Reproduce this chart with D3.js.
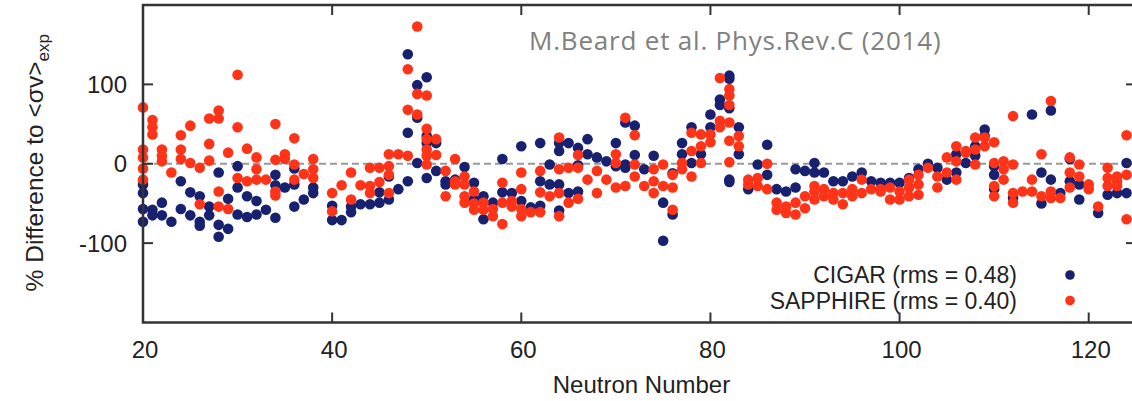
<!DOCTYPE html>
<html>
<head>
<meta charset="utf-8">
<script src="https://cdn.jsdelivr.net/npm/d3@7"></script>
<style>
  html, body { margin: 0; padding: 0; background: #fff; }
  svg { display: block; }
</style>
</head>
<body>
<svg id="plot"></svg>
<script>
svgWidth = 1132;
svgHeight = 401;
margin = {top: 5, right: -4, bottom: 78.5, left: 143};

xTicks = [20, 40, 60, 80, 100, 120];
yTicks = [-100, 0, 100];

// [neutron number, % difference]
const cigarPoints = [
    [20,-26],[20,-37],[20,-57],[20,-73],[21,-58],[21,-65],[22,-49],[22,-65],[23,-73],
    [24,-22],[24,-57],[25,-36],[25,-65],[26,-41],[26,-73],[26,-78],[27,-54],[27,-65],
    [28,-11],[28,-77],[28,-92],[29,-44],[29,-82],[30,-3],[30,-30],[30,-64],[31,-41],[31,-67],
    [32,-47],[32,-64],[33,-58],[34,-14],[34,-27],[34,-68],[35,-30],[36,-6],[36,-26],[36,-54],
    [37,-45],[38,-30],[38,-37],[40,-53],[40,-71],[41,-71],[42,-54],[42,-61],[43,-51],[44,-51],
    [45,-36],[45,-49],[46,-16],[46,-45],[47,-32],[48,-22],[48,39],[48,138],[49,99],[49,58],[49,1],
    [50,109],[50,35],[50,26],[50,-18],[51,26],[51,-9],[52,-22],[52,-26],[53,-20],[54,-4],
    [55,-24],[55,-45],[56,-41],[56,-70],[57,-49],[58,6],[58,-36],[59,-37],[60,22],[60,-47],
    [61,-55],[62,26],[62,-22],[62,-53],[63,-1],[63,-26],[64,26],[64,16],[64,-26],[64,-59],
    [65,26],[65,-37],[66,20],[66,-2],[66,-35],[67,31],[67,12],[68,8],[69,3],[70,26],[70,-3],
    [71,52],[71,-1],[71,-5],[72,48],[72,11],[73,-7],[74,10],[75,-49],[75,-97],[76,-12],[76,-64],
    [77,26],[77,12],[78,46],[78,1],[79,12],[80,62],[80,46],[81,81],[81,74],
    [82,111],[82,107],[82,70],[82,-20],[82,-23],[83,46],[83,12],[84,-32],[85,-1],[86,24],[86,-14],
    [87,-32],[88,-35],[89,-7],[89,-30],[90,-9],[91,1],[91,-11],[92,-11],[93,-22],[94,-22],
    [95,-16],[96,-11],[97,-22],[98,-24],[99,-24],[100,-24],[101,-18],[102,-7],[103,0],[104,-5],
    [105,-20],[106,12],[106,-11],[107,1],[108,22],[108,10],[109,43],[109,35],[110,-3],[110,-14],
    [110,-32],[112,-43],[114,62],[115,-11],[115,-50],[116,67],[116,-20],[117,-37],[118,6],[118,-22],
    [119,-26],[119,-45],[121,-62],[122,-39],[123,-37],[124,1],[124,-37]
];

const sapphirePoints = [
    [20,71],[20,18],[20,8],[20,-6],[20,-20],[21,55],[21,46],[21,37],[22,18],[22,10],[22,3],
    [23,-11],[24,36],[24,18],[24,6],[25,48],[25,1],[26,-5],[26,-51],[27,57],[27,25],[27,4],
    [28,67],[28,57],[28,-35],[28,-54],[29,14],[29,-57],[30,112],[30,46],[30,-18],[31,19],[31,-22],
    [32,8],[32,-7],[32,-20],[33,-20],[34,50],[34,5],[34,-35],[34,-40],[35,12],[35,6],
    [36,32],[36,-1],[36,-20],[37,-13],[38,6],[38,-7],[38,-18],[40,-37],[40,-60],[41,-27],
    [42,-11],[42,-45],[43,-27],[44,-5],[44,-28],[44,-37],[45,-5],[45,-23],[46,12],[46,-3],
    [46,-14],[46,-37],[47,12],[48,10],[48,68],[48,119],[49,173],[49,88],[49,62],
    [50,86],[50,44],[50,31],[50,18],[50,10],[50,-1],[51,31],[51,11],[52,-9],[52,-41],
    [53,6],[53,-22],[53,-26],[54,-16],[54,-26],[54,-41],[54,-49],[55,-35],[55,-50],[55,-58],
    [56,-49],[56,-58],[57,-57],[57,-66],[58,-24],[58,-49],[58,-76],[59,-47],[59,-54],
    [60,-11],[60,-32],[60,-57],[60,-66],[61,-61],[62,-9],[62,-36],[62,-61],[63,-41],
    [64,33],[64,-7],[64,-37],[64,-66],[65,-5],[65,-49],[66,11],[66,-5],[66,-44],[67,-20],
    [68,-9],[68,-37],[69,-20],[70,12],[70,1],[70,-30],[71,58],[71,-28],[72,36],[72,-1],[72,-16],
    [73,-28],[74,-7],[74,-22],[74,-37],[75,-1],[75,-28],[76,-14],[76,-30],[76,-58],[77,1],[77,-7],
    [78,39],[78,16],[78,-16],[79,37],[79,22],[79,1],[80,37],[80,27],[81,108],[81,54],[81,46],
    [82,94],[82,86],[82,74],[82,52],[82,29],[82,2],[83,35],[83,22],[84,-20],[84,-26],
    [85,-18],[85,-28],[86,0],[86,-32],[87,-49],[87,-58],[88,-54],[88,-62],[89,-49],[89,-64],
    [90,-41],[90,-56],[91,-28],[91,-35],[91,-45],[92,-32],[92,-41],[93,-37],[93,-45],
    [94,-37],[94,-51],[95,-32],[95,-41],[96,-20],[96,-37],[97,-32],[98,-32],[98,-35],
    [99,-30],[99,-45],[100,-35],[100,-45],[101,-20],[101,-30],[101,-41],[102,-14],[102,-26],
    [102,-39],[103,-5],[104,-16],[104,-30],[105,8],[105,-11],[106,22],[106,3],[106,-20],
    [107,14],[107,16],[108,33],[108,18],[108,-1],[109,33],[109,22],[110,27],[110,1],[110,-28],
    [110,-41],[111,3],[111,-7],[111,-20],[112,60],[112,-1],[112,-37],[112,-49],[113,-35],
    [114,-20],[114,-35],[115,12],[115,-41],[116,79],[116,-35],[116,-43],[117,-43],
    [118,8],[118,-11],[118,-30],[119,-1],[119,-16],[120,-26],[120,-32],[121,-54],
    [122,-5],[122,-18],[122,-28],[123,-16],[123,-22],[123,-28],[124,36],[124,-14],[124,-70]
];

const seriesNames = ["CIGAR (rms = 0.48)", "SAPPHIRE (rms = 0.40)"];
const seriesColors = ["#172170", "#ff3318"];
const sourceNote = "M.Beard et al. Phys.Rev.C (2014)";

x = d3.scaleLinear()
    .domain([20, 125])
    .range([margin.left, svgWidth - margin.right]);

y = d3.scaleLinear()
    .domain([-200, 200])
    .range([svgHeight - margin.bottom, margin.top]);

function createSVG() {
    const svg = d3.select("#plot")
        .attr("width", svgWidth)
        .attr("height", svgHeight)
        .attr("viewBox", [0, 0, svgWidth, svgHeight])
        .style("font-family", "'Liberation Sans', Arial, sans-serif");

    const x0 = x.range()[0], x1 = x.range()[1];
    const y0 = y.range()[0], y1 = y.range()[1];

    // zero line
    svg.append("line")
        .attr("x1", x0).attr("x2", x1)
        .attr("y1", y(0)).attr("y2", y(0))
        .attr("stroke", "#999")
        .attr("stroke-width", 2)
        .attr("stroke-dasharray", "7,4");

    // points, cigar first so sapphire sits on top
    const dots = svg.append("g");
    [cigarPoints, sapphirePoints].forEach((pts, i) => {
        dots.append("g")
            .selectAll("circle")
            .data(pts)
            .join("circle")
            .attr("cx", d => x(d[0]))
            .attr("cy", d => y(d[1]))
            .attr("r", 5.3)
            .attr("fill", seriesColors[i]);
    });

    // ticks pointing inward on all four sides
    const tickLen = 10;
    const ticks = svg.append("g")
        .attr("stroke", "#333")
        .attr("stroke-width", 2);
    xTicks.filter(t => t > 20).forEach(t => {
        ticks.append("line").attr("x1", x(t)).attr("x2", x(t)).attr("y1", y1).attr("y2", y1 + tickLen);
        ticks.append("line").attr("x1", x(t)).attr("x2", x(t)).attr("y1", y0).attr("y2", y0 - tickLen);
    });
    yTicks.forEach(t => {
        ticks.append("line").attr("x1", x0).attr("x2", x0 + tickLen).attr("y1", y(t)).attr("y2", y(t));
        ticks.append("line").attr("x1", x1).attr("x2", x1 - tickLen).attr("y1", y(t)).attr("y2", y(t));
    });

    // frame
    svg.append("rect")
        .attr("x", x0).attr("y", y1)
        .attr("width", x1 - x0).attr("height", y0 - y1)
        .attr("fill", "none")
        .attr("stroke", "#333")
        .attr("stroke-width", 2.5);

    // tick labels
    svg.append("g")
        .selectAll("text")
        .data(xTicks)
        .join("text")
        .attr("x", d => x(d) + 2)
        .attr("y", 358)
        .attr("text-anchor", "middle")
        .attr("font-size", 24)
        .attr("fill", "#222")
        .text(d => d);

    svg.append("g")
        .selectAll("text")
        .data(yTicks)
        .join("text")
        .attr("x", 127)
        .attr("y", d => y(d) + 8.5)
        .attr("text-anchor", "end")
        .attr("font-size", 24)
        .attr("fill", "#222")
        .text(d => d);

    // axis titles
    svg.append("text")
        .attr("x", (x0 + x1) / 2 + 2)
        .attr("y", 393)
        .attr("text-anchor", "middle")
        .attr("font-size", 24)
        .attr("fill", "#222")
        .text("Neutron Number");

    const yTitle = svg.append("text")
        .attr("transform", `translate(43, ${y(0) - 1}) rotate(-90)`)
        .attr("text-anchor", "middle")
        .attr("font-size", 24.5)
        .attr("fill", "#222");
    yTitle.append("tspan").text("% Difference to <σv>");
    yTitle.append("tspan")
        .attr("font-size", 17)
        .attr("dy", 6)
        .text("exp");

    // legend
    const legend = svg.append("g");
    seriesNames.forEach((name, i) => {
        legend.append("text")
            .attr("x", 1017)
            .attr("y", 283 + i * 26)
            .attr("text-anchor", "end")
            .attr("font-size", 23)
            .attr("fill", "#222")
            .text(name);
        legend.append("circle")
            .attr("cx", 1070)
            .attr("cy", 275 + i * 25.5)
            .attr("r", 4.8)
            .attr("fill", seriesColors[i]);
    });

    // source note
    svg.append("text")
        .attr("x", 529)
        .attr("y", 50)
        .attr("font-family", "'Open Sans', sans-serif")
        .attr("font-size", 26)
        .attr("letter-spacing", 0.8)
        .attr("fill", "#808080")
        .text(sourceNote);
}

createSVG();
</script>
</body>
</html>
